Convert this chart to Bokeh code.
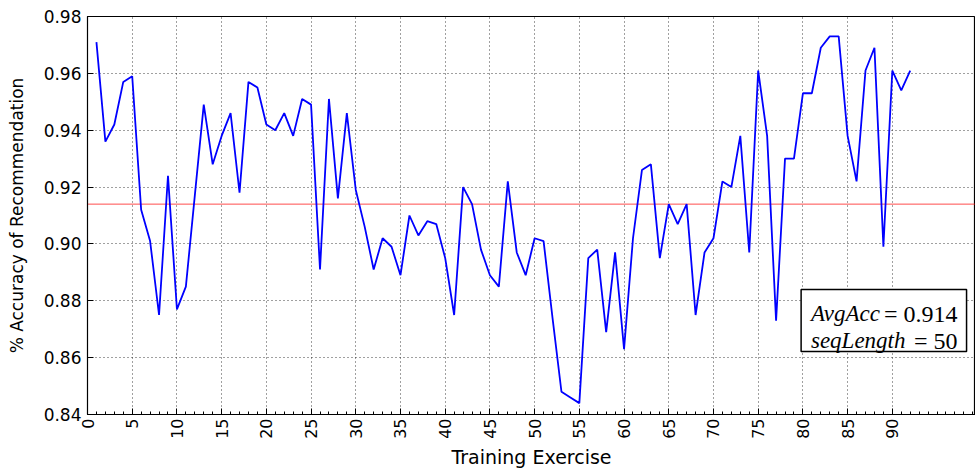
import math
from bokeh.plotting import figure
from bokeh.models import FixedTicker, Span, BoxAnnotation, Label, Range1d, PrintfTickFormatter
from bokeh.embed import file_html
from bokeh.resources import INLINE

exercise = list(range(1, 93))
accuracy = [
    0.971, 0.936, 0.942, 0.957, 0.959, 0.912, 0.901, 0.875, 0.924, 0.877,
    0.885, 0.917, 0.949, 0.928, 0.938, 0.946, 0.918, 0.957, 0.955, 0.942,
    0.940, 0.946, 0.938, 0.951, 0.949, 0.891, 0.951, 0.916, 0.946, 0.919,
    0.906, 0.891, 0.902, 0.899, 0.889, 0.910, 0.903, 0.908, 0.907, 0.895,
    0.875, 0.920, 0.914, 0.898, 0.889, 0.885, 0.922, 0.897, 0.889, 0.902,
    0.901, 0.874, 0.848, 0.846, 0.844, 0.895, 0.898, 0.869, 0.897, 0.863,
    0.902, 0.926, 0.928, 0.895, 0.914, 0.907, 0.914, 0.875, 0.897, 0.902,
    0.922, 0.920, 0.938, 0.897, 0.961, 0.938, 0.873, 0.930, 0.930, 0.953,
    0.953, 0.969, 0.973, 0.973, 0.938, 0.922, 0.961, 0.969, 0.899, 0.961,
    0.954, 0.961,
]
avg_acc = 0.914
seq_length = 50
x_ticks = list(range(0, 91, 5))
x_minor = list(range(0, 100))
y_ticks = [0.84, 0.86, 0.88, 0.90, 0.92, 0.94, 0.96, 0.98]

p = figure(width=975, height=470, output_backend="svg", toolbar_location=None,
           x_range=Range1d(0, 99.3), y_range=Range1d(0.84, 0.98),
           min_border_left=87, min_border_right=0, min_border_top=16,
           min_border_bottom=54)
p.background_fill_color = "white"
p.border_fill_color = "white"
p.outline_line_color = "black"
p.outline_line_width = 1.2
p.outline_line_alpha = 1

p.xaxis.ticker = FixedTicker(ticks=x_ticks, minor_ticks=x_minor)
p.yaxis.ticker = FixedTicker(ticks=y_ticks, minor_ticks=[])
p.yaxis.formatter = PrintfTickFormatter(format="%.2f")
p.xaxis.major_label_orientation = math.pi / 2

for ax in (p.xaxis, p.yaxis):
    ax.major_tick_in = 6
    ax.major_tick_out = 0
    ax.minor_tick_in = 3
    ax.minor_tick_out = 0
    ax.axis_line_color = "black"
    ax.major_tick_line_color = "black"
    ax.minor_tick_line_color = "black"
    ax.major_label_text_font = "DejaVu Sans"
    ax.major_label_text_color = "black"
    ax.axis_label_text_font = "DejaVu Sans"
    ax.axis_label_text_font_style = "normal"
    ax.axis_label_text_color = "black"

p.xaxis.major_label_text_font_size = "16px"
p.yaxis.major_label_text_font_size = "17px"
p.xaxis.axis_label_text_font_size = "19px"
p.yaxis.axis_label_text_font_size = "17px"
p.xaxis.major_label_standoff = 4
p.yaxis.major_label_standoff = 6
p.xaxis.axis_label_standoff = 4
p.yaxis.axis_label_standoff = 14
p.xaxis.axis_label = "Training Exercise"
p.yaxis.axis_label = "% Accuracy of Recommendation"

p.grid.grid_line_color = "black"
p.grid.grid_line_alpha = 0.75
p.grid.grid_line_dash = "1 3"
p.grid.grid_line_width = 1

avg_line = Span(location=avg_acc, dimension="width", line_color="red",
                line_alpha=0.7, line_width=1, level="underlay")
p.add_layout(avg_line)

p.line(exercise, accuracy, line_color="blue", line_width=1.8)

box = BoxAnnotation(left=79.8, right=98.3, top=0.8840, bottom=0.8622,
                    fill_color="white", fill_alpha=1.0,
                    line_color="black", line_width=1.5, line_alpha=1)
p.add_layout(box)

serif = "Liberation Serif"
lines = [("AvgAcc", "= %.3f" % avg_acc, 0.8754), ("seqLength", "= %d" % seq_length, 0.8659)]
for name, val, yb in lines:
    p.add_layout(Label(x=80.9, y=yb, text=name, text_font=serif, text_font_style="italic",
                       text_font_size="23px", text_align="left", text_baseline="alphabetic",
                       text_color="black"))
    p.add_layout(Label(x=97.3, y=yb, text=val, text_font=serif, text_font_style="normal",
                       text_font_size="24px", text_align="right", text_baseline="alphabetic",
                       text_color="black"))

open("out.html", "w").write(file_html(p, INLINE))
